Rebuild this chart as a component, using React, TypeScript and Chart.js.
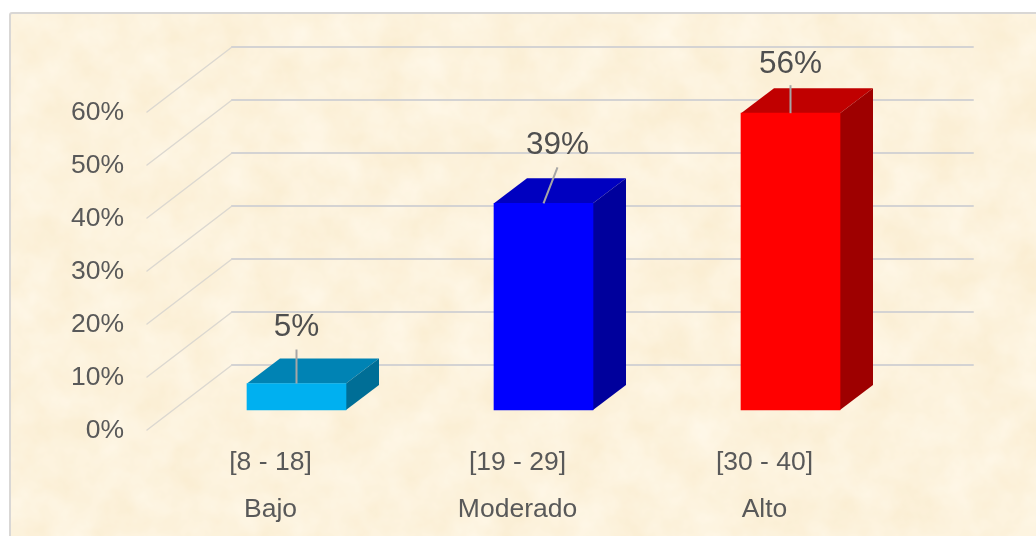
import React, { useEffect, useRef } from "react";
import { Chart, registerables } from "chart.js";

Chart.register(...registerables);

const categories: string[][] = [
  ["[8 - 18]", "Bajo"],
  ["[19 - 29]", "Moderado"],
  ["[30 - 40]", "Alto"],
];
const values = [5, 39, 56];
const frontColors = ["#00B0F0", "#0000FF", "#FF0000"];
const topColors = ["#0083B4", "#0000C0", "#C00000"];
const sideColors = ["#006E96", "#00009C", "#9E0000"];
const tickMax = 60;
const tickStep = 10;
const valueLabels = ["5%", "39%", "56%"];
const leaderTilt = [0, 14, 0];
const leaderLength = [34, 36, 28];
const labelGap = [22, 22, 21];

const FONT = '"Liberation Sans", Arial, sans-serif';
const WALL_DX = 85;
const WALL_DY = -65;
const BAR_DX = 33;
const BAR_DY = -25;
const BAR_SHIFT_X = 26;
const BAR_SHIFT_Y = -20;
const Y_LABEL_SHIFT = 1;

const noise = `<svg xmlns="http://www.w3.org/2000/svg" width="1036" height="536"><filter id="n" x="0" y="0" width="100%" height="100%" color-interpolation-filters="sRGB"><feTurbulence type="fractalNoise" baseFrequency="0.025" numOctaves="4" seed="7"/><feColorMatrix values="0.02 0 0 0 0.98 0.05 0 0 0 0.925 0.11 0 0 0 0.81 0 0 0 0 1"/></filter><rect width="1036" height="536" filter="url(#n)"/></svg>`;

const depthPlugin = {
  id: "depth",
  afterUpdate(chart: any) {
    chart.scales.y.getLabelItems().forEach((item: any) => {
      item.options.translation[1] += Y_LABEL_SHIFT;
    });
  },
  beforeDatasetsDraw(chart: any) {
    const { ctx, scales } = chart;
    const { left, right } = chart.chartArea;
    ctx.save();
    ctx.lineCap = "round";
    ctx.lineJoin = "round";
    scales.y.ticks.forEach((t: any) => {
      const y = scales.y.getPixelForValue(t.value);
      ctx.strokeStyle = "#DCD8D0";
      ctx.lineWidth = 1.5;
      ctx.beginPath();
      ctx.moveTo(left, y);
      ctx.lineTo(left + WALL_DX, y + WALL_DY);
      ctx.stroke();
      ctx.strokeStyle = "#D4D3D3";
      ctx.lineWidth = 2;
      ctx.beginPath();
      ctx.moveTo(left + WALL_DX, y + WALL_DY);
      ctx.lineTo(right + WALL_DX, y + WALL_DY);
      ctx.stroke();
    });
    ctx.restore();
    ctx.save();
    ctx.translate(BAR_SHIFT_X, BAR_SHIFT_Y);
    chart.getDatasetMeta(0).data.forEach((bar: any, i: number) => {
      const l = bar.x - bar.width / 2;
      const r = bar.x + bar.width / 2;
      ctx.fillStyle = topColors[i];
      ctx.beginPath();
      ctx.moveTo(l, bar.y);
      ctx.lineTo(l + BAR_DX, bar.y + BAR_DY);
      ctx.lineTo(r + BAR_DX, bar.y + BAR_DY);
      ctx.lineTo(r, bar.y);
      ctx.closePath();
      ctx.fill();
      ctx.fillStyle = sideColors[i];
      ctx.beginPath();
      ctx.moveTo(r, bar.y);
      ctx.lineTo(r + BAR_DX, bar.y + BAR_DY);
      ctx.lineTo(r + BAR_DX, bar.base + BAR_DY);
      ctx.lineTo(r, bar.base);
      ctx.closePath();
      ctx.fill();
    });
  },
  afterDatasetsDraw(chart: any) {
    const { ctx } = chart;
    ctx.restore();
    ctx.save();
    chart.getDatasetMeta(0).data.forEach((bar: any, i: number) => {
      const x = bar.x + BAR_SHIFT_X;
      const y = bar.y + BAR_SHIFT_Y;
      const endX = x + leaderTilt[i];
      const endY = y - leaderLength[i];
      ctx.strokeStyle = "#A6A6A6";
      ctx.lineWidth = 2;
      ctx.beginPath();
      ctx.moveTo(x, y);
      ctx.lineTo(endX, endY);
      ctx.stroke();
      ctx.fillStyle = "#4F4F4F";
      ctx.font = `31.5px ${FONT}`;
      ctx.textAlign = "center";
      ctx.textBaseline = "middle";
      ctx.fillText(valueLabels[i], endX, endY - labelGap[i]);
    });
    ctx.restore();
  },
};

export default function App() {
  const ref = useRef<HTMLCanvasElement>(null);
  useEffect(() => {
    const chart = new Chart(ref.current as HTMLCanvasElement, {
      type: "bar",
      data: {
        labels: categories,
        datasets: [
          {
            data: values,
            backgroundColor: frontColors,
            barThickness: 99,
            borderWidth: 0,
            clip: false,
          },
        ],
      },
      options: {
        animation: false,
        responsive: false,
        layout: { padding: { left: 0, top: 112, right: 148, bottom: 0 } },
        plugins: { legend: { display: false }, tooltip: { enabled: false } },
        scales: {
          x: {
            grid: { display: false },
            border: { display: false },
            afterFit(s: any) {
              s.height = 106;
            },
            ticks: {
              maxRotation: 0,
              padding: 1,
              color: "#595959",
              font: { family: FONT, size: 26.5, lineHeight: "47px" },
            },
          },
          y: {
            min: 0,
            max: tickMax,
            grid: { display: false },
            border: { display: false },
            afterFit(s: any) {
              s.width = 147;
            },
            ticks: {
              stepSize: tickStep,
              padding: 15,
              color: "#595959",
              font: { family: FONT, size: 26.5 },
              callback: (v: any) => `${v}%`,
            },
          },
        },
      },
      plugins: [depthPlugin],
    } as any);
    return () => chart.destroy();
  }, []);

  return (
    <div style={{ position: "fixed", left: 0, top: 0, width: 1036, height: 536, background: "#fff", overflow: "hidden" }}>
      <div
        style={{
          position: "absolute",
          left: 9,
          top: 12,
          width: 1040,
          height: 540,
          boxSizing: "border-box",
          border: "2px solid #D9D7D5",
          borderRadius: 3,
          backgroundImage: `url("data:image/svg+xml,${encodeURIComponent(noise)}")`,
        }}
      />
      <canvas
        ref={ref}
        width={1036}
        height={536}
        style={{ position: "absolute", left: 0, top: 0, width: 1036, height: 536, filter: "blur(0.7px)" }}
      />
    </div>
  );
}
